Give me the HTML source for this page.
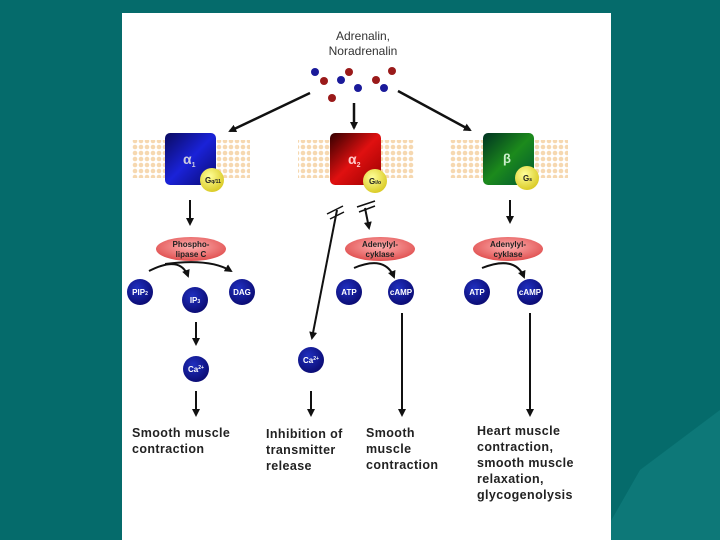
<!DOCTYPE html>
<html><head><meta charset="utf-8"><style>
html,body{margin:0;padding:0;width:720px;height:540px;overflow:hidden;background:#056b6b}
svg{display:block}
text{font-family:"Liberation Sans",sans-serif}
.b{font-weight:bold;font-size:12.5px;fill:#222;letter-spacing:0.4px}
.c{font-weight:bold;font-size:8px;fill:#fff}
.e{font-weight:bold;font-size:8px;fill:#222}
</style></head><body>
<svg width="720" height="540" viewBox="0 0 720 540">
<defs>
<marker id="a" markerWidth="8" markerHeight="8" refX="6" refY="4" orient="auto" markerUnits="userSpaceOnUse"><path d="M0,0 L8,4 L0,8 z" fill="#111"/></marker>
<pattern id="m" width="6" height="6" patternUnits="userSpaceOnUse"><circle cx="3" cy="3" r="2.3" fill="#f6d8b0"/></pattern>
<linearGradient id="gb" x1="0" y1="0" x2="1" y2="1"><stop offset="0" stop-color="#0a0a60"/><stop offset=".5" stop-color="#1a22d8"/><stop offset="1" stop-color="#0a0a70"/></linearGradient>
<linearGradient id="gr" x1="0" y1="0" x2="1" y2="1"><stop offset="0" stop-color="#300"/><stop offset=".5" stop-color="#e01010"/><stop offset="1" stop-color="#900"/></linearGradient>
<linearGradient id="gg" x1="0" y1="0" x2="1" y2="1"><stop offset="0" stop-color="#032"/><stop offset=".5" stop-color="#1c8a1c"/><stop offset="1" stop-color="#053"/></linearGradient>
<radialGradient id="gy" cx=".4" cy=".35" r=".7"><stop offset="0" stop-color="#ffff99"/><stop offset="1" stop-color="#d8c820"/></radialGradient>
<radialGradient id="gc" cx=".4" cy=".35" r=".7"><stop offset="0" stop-color="#2030c0"/><stop offset="1" stop-color="#0a0a70"/></radialGradient>
<radialGradient id="ge" cx=".5" cy=".4" r=".6"><stop offset="0" stop-color="#ffb0b0"/><stop offset="1" stop-color="#e05050"/></radialGradient>
</defs>
<polygon points="600,540 640,470 680,440 720,410 720,540" fill="#0d7878"/>
<rect x="122" y="13" width="489" height="527" fill="#fff"/>
<text x="363" y="40" text-anchor="middle" font-size="12" fill="#333">Adrenalin,</text>
<text x="363" y="55" text-anchor="middle" font-size="12" fill="#333">Noradrenalin</text>
<g fill="#1a1a9a"><circle cx="315" cy="72" r="4"/><circle cx="341" cy="80" r="4"/><circle cx="358" cy="88" r="4"/><circle cx="384" cy="88" r="4"/></g>
<g fill="#9a1a1a"><circle cx="349" cy="72" r="4"/><circle cx="392" cy="71" r="4"/><circle cx="324" cy="81" r="4"/><circle cx="376" cy="80" r="4"/><circle cx="332" cy="98" r="4"/></g>
<g stroke="#111" stroke-width="2.5" marker-end="url(#a)">
<line x1="310" y1="93" x2="230" y2="131"/><line x1="354" y1="103" x2="354" y2="128"/><line x1="398" y1="91" x2="470" y2="130"/>
</g>
<rect x="132" y="140" width="118" height="38" fill="url(#m)"/>
<rect x="298" y="140" width="116" height="38" fill="url(#m)"/>
<rect x="450" y="140" width="118" height="38" fill="url(#m)"/>
<rect x="165" y="133" width="51" height="52" rx="5" fill="url(#gb)"/>
<rect x="330" y="133" width="51" height="52" rx="5" fill="url(#gr)"/>
<rect x="483" y="133" width="51" height="52" rx="5" fill="url(#gg)"/>
<text x="183" y="164" font-size="14" font-weight="bold" fill="#ccd">α<tspan font-size="7" dy="3">1</tspan></text>
<text x="348" y="164" font-size="14" font-weight="bold" fill="#fcc">α<tspan font-size="7" dy="3">2</tspan></text>
<text x="503" y="163" font-size="13" font-weight="bold" fill="#cec">β</text>
<circle cx="212" cy="180" r="12" fill="url(#gy)"/><text x="205" y="183" class="e">G<tspan font-size="5">q/11</tspan></text>
<circle cx="375" cy="181" r="12" fill="url(#gy)"/><text x="369" y="184" class="e">G<tspan font-size="5">i/o</tspan></text>
<circle cx="527" cy="178" r="12" fill="url(#gy)"/><text x="523" y="181" class="e">G<tspan font-size="5">s</tspan></text>
<g stroke="#111" stroke-width="2" fill="none">
<line x1="190" y1="200" x2="190" y2="224" marker-end="url(#a)"/>
<line x1="510" y1="200" x2="510" y2="222" marker-end="url(#a)"/>
<line x1="365" y1="208" x2="369" y2="228" marker-end="url(#a)"/>
<line x1="337" y1="210" x2="312" y2="338" marker-end="url(#a)"/>
<path d="M327,214 l16,-8 M330,219 l14,-7 M357,207 l18,-6 M359,212 l16,-6" stroke-width="1.5"/>
<path d="M149,271 Q180,255 188,276" marker-end="url(#a)"/>
<path d="M165,264 Q210,258 231,271" marker-end="url(#a)"/>
<path d="M354,268 Q385,255 394,277" marker-end="url(#a)"/>
<path d="M482,268 Q515,255 524,277" marker-end="url(#a)"/>
<line x1="196" y1="322" x2="196" y2="344" marker-end="url(#a)"/>
<line x1="196" y1="391" x2="196" y2="415" marker-end="url(#a)"/>
<line x1="311" y1="391" x2="311" y2="415" marker-end="url(#a)"/>
<line x1="402" y1="313" x2="402" y2="415" marker-end="url(#a)"/>
<line x1="530" y1="313" x2="530" y2="415" marker-end="url(#a)"/>
</g>
<ellipse cx="191" cy="249" rx="35" ry="12" fill="url(#ge)"/>
<text x="191" y="247" text-anchor="middle" class="e">Phospho-</text><text x="191" y="257" text-anchor="middle" class="e">lipase C</text>
<ellipse cx="380" cy="249" rx="35" ry="12" fill="url(#ge)"/>
<text x="380" y="247" text-anchor="middle" class="e">Adenylyl-</text><text x="380" y="257" text-anchor="middle" class="e">cyklase</text>
<ellipse cx="508" cy="249" rx="35" ry="12" fill="url(#ge)"/>
<text x="508" y="247" text-anchor="middle" class="e">Adenylyl-</text><text x="508" y="257" text-anchor="middle" class="e">cyklase</text>
<g fill="url(#gc)">
<circle cx="140" cy="292" r="13"/><circle cx="195" cy="300" r="13"/><circle cx="242" cy="292" r="13"/>
<circle cx="196" cy="369" r="13"/><circle cx="311" cy="360" r="13"/>
<circle cx="349" cy="292" r="13"/><circle cx="401" cy="292" r="13"/>
<circle cx="477" cy="292" r="13"/><circle cx="530" cy="292" r="13"/>
</g>
<g class="c" text-anchor="middle">
<text x="140" y="295" class="c" text-anchor="middle">PIP<tspan font-size="5">2</tspan></text>
<text x="195" y="303" class="c" text-anchor="middle">IP<tspan font-size="5">3</tspan></text>
<text x="242" y="295" class="c" text-anchor="middle">DAG</text>
<text x="196" y="372" class="c" text-anchor="middle">Ca<tspan font-size="5" dy="-3">2+</tspan></text>
<text x="311" y="363" class="c" text-anchor="middle">Ca<tspan font-size="5" dy="-3">2+</tspan></text>
<text x="349" y="295" class="c" text-anchor="middle">ATP</text>
<text x="401" y="295" class="c" text-anchor="middle">cAMP</text>
<text x="477" y="295" class="c" text-anchor="middle">ATP</text>
<text x="530" y="295" class="c" text-anchor="middle">cAMP</text>
</g>
<text class="b"><tspan x="132" y="437">Smooth muscle</tspan><tspan x="132" y="453">contraction</tspan></text>
<text class="b"><tspan x="266" y="438">Inhibition of</tspan><tspan x="266" y="454">transmitter</tspan><tspan x="266" y="470">release</tspan></text>
<text class="b"><tspan x="366" y="437">Smooth</tspan><tspan x="366" y="453">muscle</tspan><tspan x="366" y="469">contraction</tspan></text>
<text class="b"><tspan x="477" y="435">Heart muscle</tspan><tspan x="477" y="451">contraction,</tspan><tspan x="477" y="467">smooth muscle</tspan><tspan x="477" y="483">relaxation,</tspan><tspan x="477" y="499">glycogenolysis</tspan></text>
</svg>
</body></html>
